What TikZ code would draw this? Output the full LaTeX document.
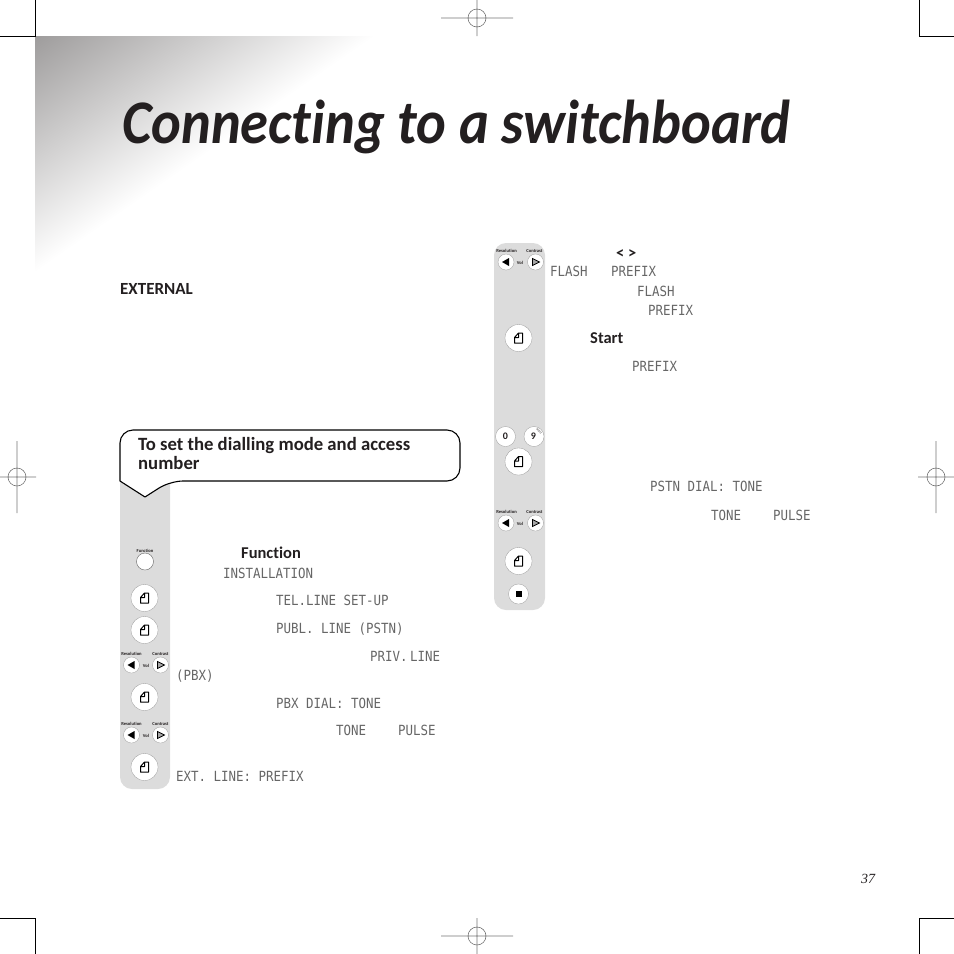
\documentclass[tikz,border=0pt]{standalone}
\usepackage{fontspec}
\setmainfont[Ligatures=NoCommon]{Carlito}
\newfontfamily\titlefont[Ligatures=NoCommon, FakeStretch=0.911]{Carlito}
\newfontfamily\lcdfont[FakeStretch=0.89]{DejaVu Sans Mono}
\newfontfamily\pagefont{Liberation Serif}
\definecolor{panel}{RGB}{220, 220, 220}
\definecolor{shadedark}{RGB}{158, 156, 156}
\definecolor{inkdark}{RGB}{35, 31, 32}
\usetikzlibrary{shapes, arrows, positioning, calc}

\begin{document}
\begin{tikzpicture}[x=1pt, y=-1pt,
        every node/.style={inner sep=0pt, text=inkdark},
        heading/.style={anchor=base west, font=\titlefont\fontsize{62}{62}\selectfont\bfseries\itshape},
        lcd/.style={anchor=base west, text=black!60, font=\lcdfont\fontsize{14}{14}\selectfont},
        strong/.style={anchor=base west, font=\fontsize{16.5}{16.5}\selectfont\bfseries},
        calloutline/.style={anchor=base west, font=\fontsize{18.7}{20}\selectfont\bfseries},
        tiny/.style={font=\fontsize{4.6}{5}\selectfont\bfseries},
        crop/.style={black, line width=0.8pt},
        reg/.style={black!55, line width=0.6pt},
        okbtn/.style={circle, draw=black!40, line width=0.3pt, fill=white, minimum size=27pt,
            path picture={\draw[shift={(path picture bounding box.center)}, black, line width=1pt, line join=round]
                (-4,5) -- (4,5) -- (4,-5) -- (0,-5) -- (-4,-0.5) -- cycle (0,-5) -- (0,-0.5) -- (-4,-0.5);}},
        leftbtn/.style={circle, draw=black!40, line width=0.3pt, fill=white, minimum size=16pt,
            path picture={\fill[shift={(path picture bounding box.center)}, black]
                (-4,0) -- (3,-4) -- (3,4) -- cycle;}},
        rightbtn/.style={circle, draw=black!40, line width=0.3pt, fill=white, minimum size=16pt,
            path picture={\draw[shift={(path picture bounding box.center)}, black, fill=black!35, line width=0.8pt]
                (4,0) -- (-3,-3.5) -- (-3,3.5) -- cycle;}},
        numbtn/.style={circle, draw=black!40, line width=0.3pt, fill=white, minimum size=20pt,
            font=\fontsize{10}{10}\selectfont\bfseries},
        funcbtn/.style={circle, draw=black!60, line width=0.4pt, fill=white, minimum size=17pt},
        stopbtn/.style={circle, draw=black!40, line width=0.3pt, fill=white, minimum size=20pt,
            path picture={\fill[shift={(path picture bounding box.center)}, black]
                (-3,-3) rectangle (3,3);}}
    ]
    \useasboundingbox (0,0) rectangle (954,954);

    % Corner shading
    \begin{scope}
        \clip (35,36) -- (375,36) -- (35,272) -- cycle;
        \begin{scope}[transform canvas={rotate around={34.8:(35,272)}}]
            \shade[top color=shadedark, bottom color=white] (35,272) rectangle (449,78);
        \end{scope}
    \end{scope}

    % Crop marks
    \draw[crop] (35,0) -- (35,36) -- (0,36);
    \draw[crop] (919,0) -- (919,36) -- (954,36);
    \draw[crop] (0,918) -- (35,918) -- (35,954);
    \draw[crop] (954,918) -- (919,918) -- (919,954);

    % Registration marks
    \draw[reg] (441,18) -- (513,18) (477,0) -- (477,36) (477,18) circle (9);
    \draw[reg] (441,936) -- (513,936) (477,918) -- (477,954) (477,936) circle (9);
    \draw[reg] (0,477) -- (36,477) (17,441) -- (17,513) (17,477) circle (9);
    \draw[reg] (918,477) -- (954,477) (936,441) -- (936,513) (936,477) circle (9);

    % Title and intro
    \node[heading] (title) at (122,143) {Connecting to a switchboard};
    \node[strong, font=\fontsize{17}{17}\selectfont\bfseries] (external) at (120,294.5) {EXTERNAL};
    \node[anchor=base, font=\fontsize{14}{14}\selectfont\itshape\pagefont] (pageno) at (868,883) {37};

    % Button panels
    \fill[panel, rounded corners=12pt] (120,470) rectangle (170,789);
    \fill[panel, rounded corners=12pt] (494,243) rectangle (545,610);

    % Callout
    \draw[fill=white, line width=1.1pt, line join=round, rounded corners=13pt] (120,481) -- (120,430) -- (460,430) -- (460,481) -- (170,481) [sharp corners] -- (145,497) -- cycle;
    \node[calloutline] (steptitle) at (138,450) {To set the dialling mode and access};
    \node[calloutline] (steptitleb) at (138,469) {number};

    % Left panel buttons
    \node[tiny] (funclabel) at (145,551) {Function};
    \node[funcbtn] (func) at (145,561.5) {};
    \node[okbtn] (oka) at (144.5,598) {};
    \node[okbtn] (okb) at (144.5,630) {};
    \node[tiny] (resa) at (131.5,654) {Resolution};
    \node[tiny] (cona) at (160.5,654) {Contrast};
    \node[leftbtn] (lefta) at (131.5,665) {};
    \node[tiny] (vola) at (146,665.5) {Vol};
    \node[rightbtn] (righta) at (160.5,665) {};
    \node[okbtn] (okc) at (144.5,697) {};
    \node[tiny] (resb) at (131.5,724) {Resolution};
    \node[tiny] (conb) at (160.5,724) {Contrast};
    \node[leftbtn] (leftb) at (131.5,735) {};
    \node[tiny] (volb) at (146,735.5) {Vol};
    \node[rightbtn] (rightb) at (160.5,735) {};
    \node[okbtn] (okd) at (144.5,767) {};

    % Right panel buttons
    \node[tiny] (resc) at (506.5,251) {Resolution};
    \node[tiny] (conc) at (534.5,251) {Contrast};
    \node[leftbtn] (leftc) at (506,262) {};
    \node[tiny] (volc) at (520,262.5) {Vol};
    \node[rightbtn] (rightc) at (535.5,262) {};
    \node[okbtn] (oke) at (518.5,338) {};
    \node[numbtn] (zero) at (505.5,436.5) {0};
    \node[numbtn] (nine) at (534,436.5) {\raisebox{-1pt}{\hspace{-1pt}9}};
    \node[tiny, font=\fontsize{2.8}{2.8}\selectfont, rotate=-45] (wxyz) at (539,431) {WXYZ};
    \node[okbtn] (okf) at (518.5,461.5) {};
    \node[tiny] (resd) at (506.5,512) {Resolution};
    \node[tiny] (cond) at (534.5,512) {Contrast};
    \node[leftbtn] (leftd) at (506,523) {};
    \node[tiny] (vold) at (520,523.5) {Vol};
    \node[rightbtn] (rightd) at (535.5,523) {};
    \node[okbtn] (okg) at (518.5,561) {};
    \node[stopbtn] (stop) at (518.5,594) {};

    % Left column text
    \node[strong] (funcword) at (241,558) {Function};
    \node[lcd] (install) at (223,578) {INSTALLATION};
    \node[lcd] (telline) at (276,605) {TEL.LINE SET-UP};
    \node[lcd] (publine) at (276,633) {PUBL. LINE (PSTN)};
    \node[lcd] (privline) at (370,661.5) {PRIV.\hspace{-5pt} LINE};
    \node[lcd] (pbx) at (176,680) {(PBX)};
    \node[lcd] (pbxdial) at (276,708) {PBX DIAL: TONE};
    \node[lcd] (tonea) at (336,735) {TONE};
    \node[lcd] (pulsea) at (398,735) {PULSE};
    \node[lcd] (extline) at (176,781.5) {EXT. LINE: PREFIX};

    % Right column text
    \node[strong] (chevrons) at (616,258) {< >};
    \node[lcd] (flasha) at (550,276.5) {FLASH};
    \node[lcd] (prefixa) at (611,276.5) {PREFIX};
    \node[lcd] (flashb) at (637,296) {FLASH};
    \node[lcd] (prefixb) at (648,315) {PREFIX};
    \node[strong] (startword) at (590,343) {Start};
    \node[lcd] (prefixc) at (632,371) {PREFIX};
    \node[lcd] (pstndial) at (650,491.5) {PSTN DIAL: TONE};
    \node[lcd] (toneb) at (711,520) {TONE};
    \node[lcd] (pulseb) at (773,520) {PULSE};
\end{tikzpicture}
\end{document}
